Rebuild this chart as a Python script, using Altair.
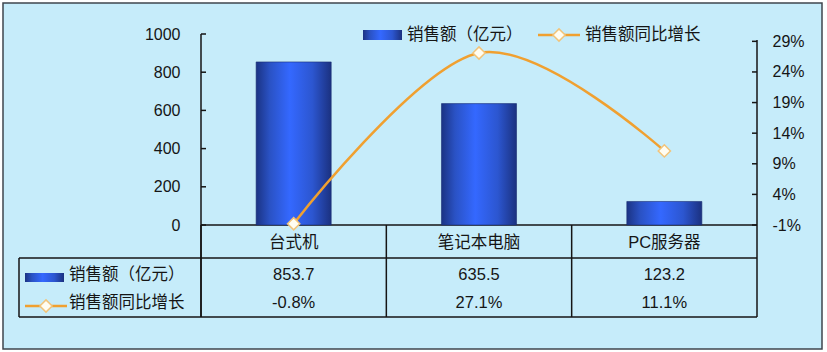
import altair as alt
import pandas as pd

# ---- data -------------------------------------------------------------
categories = ["台式机", "笔记本电脑", "PC服务器"]
sales = [853.7, 635.5, 123.2]        # 销售额（亿元）
growth = [-0.8, 27.1, 11.1]          # 销售额同比增长（%）
sales_ticks = [0, 200, 400, 600, 800, 1000]
growth_ticks = [-1, 4, 9, 14, 19, 24, 29]
series_names = ["销售额（亿元）", "销售额同比增长"]

df = pd.DataFrame({"cat": categories, "sales": sales, "growth": growth})
ONE = pd.DataFrame({"k": [0]})

# ---- layout / style ---------------------------------------------------
W, H = 556, 283          # plot band + data table underneath
BASE = 191               # pixel row of value 0 / -1%
ROW_CAT, ROW_S, ROW_G = 209, 241, 269
TABLE_TOP, TABLE_BOT = 224, 283
LEFT_COL = -182          # left edge of the table's legend column

FONT = "Liberation Sans, Noto Sans CJK SC, sans-serif"
INK = "#151515"
BG = "#c6ecfa"
ORANGE = "#f0a030"
FS = 16.5

BAR_FILL = alt.LinearGradient(
    gradient="linear", x1=0, x2=1, y1=0, y2=0,
    stops=[
        alt.GradientStop(color="#1b3384", offset=0),
        alt.GradientStop(color="#2a52c4", offset=0.18),
        alt.GradientStop(color="#3468ff", offset=0.45),
        alt.GradientStop(color="#2c56d0", offset=0.75),
        alt.GradientStop(color="#1b3180", offset=1),
    ],
)

X = alt.X("cat:N", sort=categories,
          scale=alt.Scale(domain=categories, paddingInner=0, paddingOuter=0),
          axis=None)
Y_SALES = alt.Scale(domain=[0, 1000], range=[BASE, 0], nice=False, zero=False)
Y_GROWTH = alt.Scale(domain=[-1, 30.2], range=[BASE, 0], nice=False, zero=False)

# axes sit above the framed background (zindex 1)
AX_SALES = alt.Axis(
    orient="left", values=sales_ticks, format="d", domain=False, ticks=False,
    grid=False, labelFont=FONT, labelFontSize=16, labelColor=INK,
    labelPadding=21, title=None, zindex=1)
AX_GROWTH = alt.Axis(
    orient="right", values=growth_ticks, domain=False, ticks=False, grid=False,
    labelExpr="datum.value + '%'", labelFont=FONT, labelFontSize=16,
    labelColor=INK, labelPadding=15, title=None, zindex=1)


def rule(x, x2, y, y2, width=1.5):
    return alt.Chart(ONE).mark_rule(color=INK, strokeWidth=width).encode(
        x=alt.value(x), x2=alt.value(x2), y=alt.value(y), y2=alt.value(y2))


def label(text, x, y):
    return alt.Chart(ONE).mark_text(
        text=text, align="left", baseline="middle", font=FONT,
        fontSize=FS, color=INK).encode(x=alt.value(x), y=alt.value(y))


def bar_swatch(x, x2, y, y2):
    return alt.Chart(ONE).mark_rect(fill=BAR_FILL).encode(
        x=alt.value(x), x2=alt.value(x2), y=alt.value(y), y2=alt.value(y2))


def line_swatch(x, x2, y):
    seg = alt.Chart(ONE).mark_rule(color=ORANGE, strokeWidth=2.5).encode(
        x=alt.value(x), x2=alt.value(x2), y=alt.value(y))
    dot = alt.Chart(ONE).mark_point(
        shape="diamond", size=150, filled=True, fill="#fffdf2",
        stroke="#f2c47a", strokeWidth=1.5, opacity=1).encode(
        x=alt.value((x + x2) / 2), y=alt.value(y))
    return [seg, dot]


# ---- outer frame ------------------------------------------------------
frame = alt.Chart(ONE).mark_rect(fill=BG, stroke="#3f464d", strokeWidth=1.5).encode(
    x=alt.value(-198), x2=alt.value(621), y=alt.value(-31), y2=alt.value(315))

# ---- table grid -------------------------------------------------------
grid = [
    rule(0, 0, 0, TABLE_BOT),                 # left axis line, down through table
    rule(W, W, 6, TABLE_BOT),                 # right axis line, down through table
    rule(0, W, BASE, BASE),                   # category baseline
    rule(LEFT_COL, W, TABLE_TOP, TABLE_TOP),
    rule(LEFT_COL, W, TABLE_BOT, TABLE_BOT),
    rule(LEFT_COL, LEFT_COL, TABLE_TOP, TABLE_BOT),
]
col_lines = alt.Chart(df).mark_rule(color=INK, strokeWidth=1.5).encode(
    x=alt.X("cat:N", sort=categories, bandPosition=0,
            scale=alt.Scale(domain=categories, paddingInner=0, paddingOuter=0),
            axis=None),
    y=alt.value(BASE), y2=alt.value(TABLE_BOT))

# ---- bars on the left axis -------------------------------------------
bars = alt.Chart(df).mark_bar(
    fill=BAR_FILL, stroke="#1a2d72", strokeWidth=0.6,
    width=alt.RelativeBandSize(0.405)).encode(
    x=X, y=alt.Y("sales:Q", scale=Y_SALES, axis=AX_SALES))
left_ticks = alt.Chart(pd.DataFrame({"v": sales_ticks})).mark_rule(
    color=INK, strokeWidth=1.5).encode(
    y=alt.Y("v:Q", scale=Y_SALES, axis=AX_SALES), x=alt.value(0), x2=alt.value(5))
bar_group = alt.layer(bars, left_ticks)

# ---- growth line on the right axis -----------------------------------
line = alt.Chart(df).mark_line(
    interpolate="cardinal", color=ORANGE, strokeWidth=2.5).encode(
    x=X, y=alt.Y("growth:Q", scale=Y_GROWTH, axis=AX_GROWTH))
points = alt.Chart(df).mark_point(
    shape="diamond", size=150, filled=True, fill="#fffdf2",
    stroke="#f2c47a", strokeWidth=1.5, opacity=1).encode(
    x=X, y=alt.Y("growth:Q", scale=Y_GROWTH, axis=AX_GROWTH))
right_ticks = alt.Chart(pd.DataFrame({"v": growth_ticks})).mark_rule(
    color=INK, strokeWidth=1.5).encode(
    y=alt.Y("v:Q", scale=Y_GROWTH, axis=AX_GROWTH),
    x=alt.value(W - 5), x2=alt.value(W))
line_group = alt.layer(line, points, right_ticks)

# ---- data table text --------------------------------------------------
text_style = dict(font=FONT, fontSize=FS, color=INK, baseline="middle")
cat_text = alt.Chart(df).mark_text(**text_style).encode(
    x=X, y=alt.value(ROW_CAT), text="cat:N")
sales_text = alt.Chart(df).mark_text(**text_style).encode(
    x=X, y=alt.value(ROW_S), text=alt.Text("sales:Q", format=".1f"))
growth_text = alt.Chart(df).transform_calculate(
    g="datum.growth + '%'").mark_text(**text_style).encode(
    x=X, y=alt.value(ROW_G), text="g:N")

# ---- legends (top, and table legend column) ---------------------------
legend_parts = [
    bar_swatch(162, 201, -4, 6), label(series_names[0], 206, 1),
    *line_swatch(337, 379, 1), label(series_names[1], 384, 1),
    bar_swatch(-176, -137, ROW_S - 2, ROW_S + 7), label(series_names[0], -132, ROW_S),
    *line_swatch(-176, -134, ROW_G + 3), label(series_names[1], -132, ROW_G),
]

chart = alt.layer(
    frame, *grid, col_lines, bar_group, line_group,
    cat_text, sales_text, growth_text, *legend_parts,
).resolve_scale(y="independent").properties(
    width=W, height=H,
    padding={"left": 201, "top": 34, "right": 70, "bottom": 35},
    autosize="none",
    background="white",
).configure_view(stroke=None)

chart.save("out.html", embed_options={"renderer": "svg", "actions": False})
